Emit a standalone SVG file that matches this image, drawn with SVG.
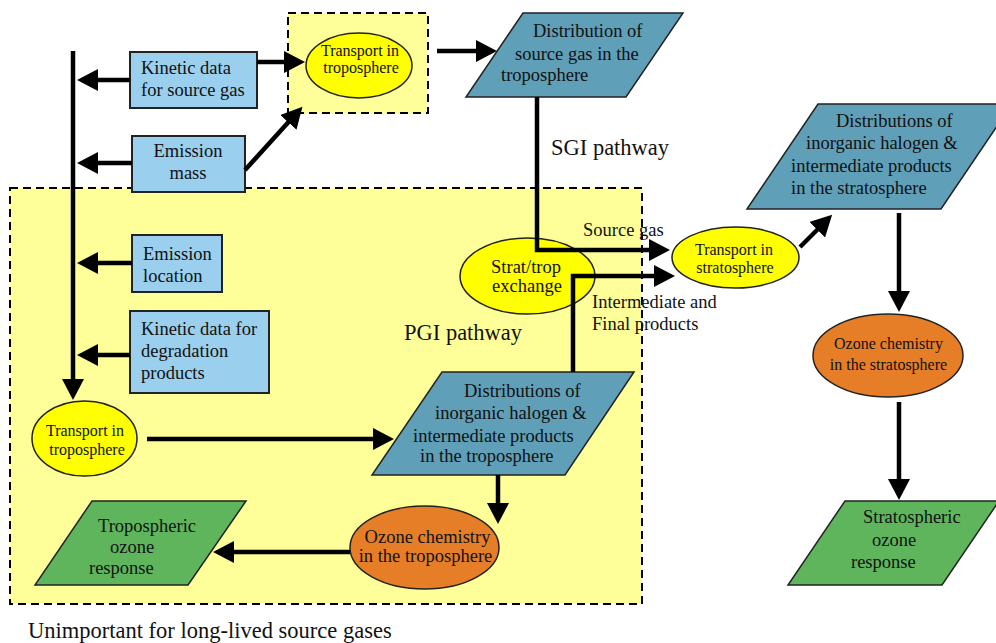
<svg xmlns="http://www.w3.org/2000/svg" width="996" height="643" viewBox="0 0 996 643" font-family="'Liberation Serif', 'Times New Roman', 'DejaVu Serif', serif">
<style>
text{font-family:'Liberation Serif','Times New Roman','DejaVu Serif',serif;fill:#111;}
.t{font-size:18.5px;}
.s{font-size:16px;}
.m{text-anchor:middle;}
.big{font-size:22.5px;}
.zone{fill:#FFFF99;stroke:#000;stroke-width:2;stroke-dasharray:8,5;}
.box{fill:#9ACFEE;stroke:#222;stroke-width:2;}
.par{fill:#5F9FB8;stroke:#222;stroke-width:1.5;}
.grn{fill:#5EB55C;stroke:#222;stroke-width:1.5;}
.yel{fill:#FFFF00;stroke:#222;stroke-width:1.5;}
.org{fill:#E57E27;stroke:#222;stroke-width:1.5;}
.c{fill:none;stroke:#000;stroke-width:4.5;marker-end:url(#ah);}
</style>
<defs>
<marker id="ah" markerUnits="userSpaceOnUse" markerWidth="22" markerHeight="22" viewBox="0 0 22 22" refX="1" refY="11" orient="auto">
<path d="M0,0 L21,11 L0,22 z" fill="#000"/>
</marker>
</defs>
<rect width="996" height="643" fill="#fff"/>
<g id="zone-pgi"><rect class="zone" x="10" y="188" width="632" height="416"/></g>
<g id="zone-top"><rect class="zone" x="288" y="13" width="140" height="100"/></g>

<g id="kinetic-source"><rect class="box" x="130" y="52" width="127" height="56"/>
<text class="t" x="141" y="74">Kinetic data</text><text class="t" x="141" y="96">for source gas</text></g>
<g id="emission-mass"><rect class="box" x="132" y="136" width="113" height="56"/>
<text class="t m" x="188" y="157">Emission</text><text class="t m" x="188" y="179">mass</text></g>
<g id="emission-location"><rect class="box" x="132" y="235" width="90" height="57"/>
<text class="t" x="143" y="260">Emission</text><text class="t" x="143" y="282">location</text></g>
<g id="kinetic-degradation"><rect class="box" x="130" y="311" width="139" height="82"/>
<text class="t" x="141" y="335">Kinetic data for</text><text class="t" x="141" y="357">degradation</text><text class="t" x="141" y="379">products</text></g>

<g id="transport-trop-top"><ellipse class="yel" cx="359" cy="65.5" rx="53" ry="32.5"/>
<text class="s m" x="360" y="56">Transport in</text><text class="s m" x="361" y="73">troposphere</text></g>
<g id="dist-source-gas"><polygon class="par" points="523,13 683,13 626,97 466,97"/>
<text class="t" x="533" y="37">Distribution of</text><text class="t" x="515" y="60">source gas in the</text><text class="t" x="501" y="81">troposphere</text></g>
<g id="strat-trop-exchange"><ellipse class="yel" cx="527.5" cy="276" rx="67.5" ry="38"/>
<text class="t m" x="526" y="273">Strat/trop</text><text class="t m" x="527" y="292">exchange</text></g>
<g id="transport-strat"><ellipse class="yel" cx="735.5" cy="257.5" rx="63.5" ry="30.5"/>
<text class="s m" x="734" y="255">Transport in</text><text class="s m" x="735" y="273">stratosphere</text></g>
<g id="dist-strat"><polygon class="par" points="818,104 1012,104 941,209 747,209"/>
<text class="t" x="836" y="127">Distributions of</text><text class="t" x="806" y="149">inorganic halogen &amp;</text><text class="t" x="791" y="172">intermediate products</text><text class="t" x="791" y="194">in the stratosphere</text></g>
<g id="ozone-strat"><ellipse class="org" cx="888" cy="355.5" rx="75" ry="41.5"/>
<text class="s m" x="888.5" y="349">Ozone chemistry</text><text class="s m" x="888.5" y="370">in the stratosphere</text></g>
<g id="strat-ozone-response"><polygon class="grn" points="845,501 999,501 942,585 788,585"/>
<text class="t" x="863" y="523">Stratospheric</text><text class="t" x="872" y="546">ozone</text><text class="t" x="851" y="568">response</text></g>
<g id="transport-trop-bottom"><ellipse class="yel" cx="84.5" cy="438.5" rx="52.5" ry="37.5"/>
<text class="s m" x="85" y="436">Transport in</text><text class="s m" x="87" y="455">troposphere</text></g>
<g id="dist-trop"><polygon class="par" points="442,372 634,372 565,475 372,475"/>
<text class="t" x="464" y="397">Distributions of</text><text class="t" x="435" y="419">inorganic halogen &amp;</text><text class="t" x="413" y="442">intermediate products</text><text class="t" x="420" y="462">in the troposphere</text></g>
<g id="ozone-trop"><ellipse class="org" cx="424.5" cy="547.5" rx="74.5" ry="41.5"/>
<text class="t m" x="427.5" y="543">Ozone chemistry</text><text class="t m" x="425.5" y="562">in the troposphere</text></g>
<g id="trop-ozone-response"><polygon class="grn" points="92,501 246,501 188,585 35,585"/>
<text class="t" x="98" y="532">Tropospheric</text><text class="t" x="110" y="553">ozone</text><text class="t" x="89" y="574">response</text></g>

<g id="connectors">
<line x1="73" y1="51" x2="73" y2="380" class="c"/>
<line x1="130" y1="80" x2="97" y2="80" class="c"/>
<line x1="132" y1="163" x2="97" y2="163" class="c"/>
<line x1="132" y1="263" x2="97" y2="263" class="c"/>
<line x1="130" y1="355" x2="97" y2="355" class="c"/>
<line x1="257" y1="62" x2="285" y2="62" class="c"/>
<line x1="245" y1="170" x2="289" y2="121.6" class="c"/>
<line x1="437" y1="51" x2="477" y2="51" class="c"/>
<polyline points="537,97 537,250 650,250" class="c"/>
<polyline points="573,372 573,276 655,276" class="c"/>
<line x1="800" y1="247" x2="818" y2="229" class="c"/>
<line x1="899" y1="213" x2="899" y2="292" class="c"/>
<line x1="899" y1="402" x2="899" y2="480" class="c"/>
<line x1="147" y1="439" x2="374" y2="439" class="c"/>
<line x1="498" y1="475" x2="498" y2="504" class="c"/>
<line x1="350" y1="552" x2="233" y2="552" class="c"/>
</g>

<g id="labels">
<text class="big" x="551" y="155">SGI pathway</text>
<text class="big" x="404" y="340">PGI pathway</text>
<text class="t" x="583" y="236">Source gas</text>
<text class="t" x="592" y="308">Intermediate and</text>
<text class="t" x="592" y="330">Final products</text>
<text class="big" x="28" y="638">Unimportant for long-lived source gases</text>
</g>
</svg>
